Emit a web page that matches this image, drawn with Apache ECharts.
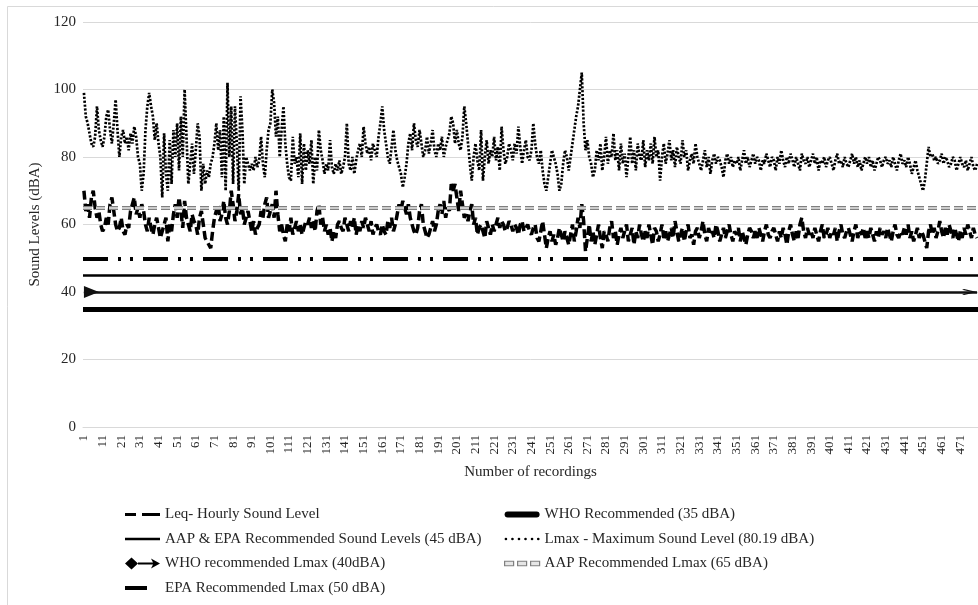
<!DOCTYPE html>
<html lang="en">
<head>
    <meta charset="UTF-8">
    <title>Sound Levels</title>
    <script type="text/javascript" src="https://cdn.jsdelivr.net/npm/echarts@6/dist/echarts.min.js"></script>
    <style>
        html, body { margin: 0; padding: 0; background: #fff; }
    </style>
</head>
<body>
    <div id="main" style="width: 978px;height:605px;"></div>
    <script type="text/javascript">

        // number of hourly recordings (x axis categories 1..480)
        var recordingCount = 480;
        var categories = [];
        for (var i = 1; i <= recordingCount; i++) {
            categories.push(String(i));
        }

        // Leq - hourly sound level (dBA)
        var leqValues = [
            70, 64, 66, 62, 68, 70, 65, 62, 64, 60,
            58, 59, 62, 60, 66, 68, 64, 60, 58, 59,
            62, 58, 57, 60, 59, 64, 66, 68, 63, 65,
            62, 66, 64, 60, 58, 62, 59, 57, 60, 62,
            59, 56, 58, 60, 62, 55, 60, 58, 63, 66,
            62, 68, 64, 59, 67, 62, 60, 58, 63, 61,
            60, 57, 62, 64, 60, 56, 55, 54, 53, 58,
            62, 64, 66, 61, 63, 67, 62, 60, 64, 70,
            66, 61, 64, 69, 63, 65, 60, 62, 64, 61,
            58, 61, 57, 59, 60, 64, 62, 66, 68, 62,
            64, 66, 62, 70, 63, 58, 60, 57, 55, 60,
            58, 62, 57, 59, 61, 58, 60, 57, 59, 61,
            60, 62, 59, 61, 58, 64, 66, 60, 62, 58,
            60, 57, 59, 55, 58, 56, 60, 61, 59, 58,
            62, 60, 58, 61, 59, 62, 57, 60, 58, 61,
            59, 62, 60, 58, 61, 57, 59, 60, 58, 57,
            60, 58, 57, 61, 59, 62, 58, 60, 63, 66,
            64, 67, 65, 63, 66, 62, 60, 58, 57, 59,
            64, 66, 60, 58, 56, 57, 59, 61, 58, 60,
            64, 66, 63, 67, 62, 65, 64, 72, 70, 72,
            68, 64, 70, 66, 62, 63, 61, 64, 66, 60,
            62, 57, 59, 60, 58, 56, 61, 59, 57, 60,
            58, 60, 62, 59, 61, 60, 58, 59, 61, 60,
            58, 60, 59, 57, 60, 61, 58, 59, 60, 58,
            57, 59, 60, 56, 55, 58, 61, 57, 53, 56,
            58, 55, 57, 54, 56, 59, 57, 55, 58, 56,
            54, 57, 60, 55, 58, 62, 59, 66, 61, 52,
            56, 60, 55, 58, 54, 57, 60, 56, 53, 58,
            57, 55, 59, 61, 56, 58, 54, 57, 59, 56,
            58, 60, 55, 57, 59, 54, 58, 56, 60, 57,
            55, 58, 56, 60, 57, 54, 59, 58, 55, 57,
            60, 56, 58, 55, 57, 59, 56, 61, 58, 55,
            57, 59, 55, 58, 60, 56, 57, 54, 58, 59,
            56, 58, 61, 57, 55, 59, 57, 58, 56, 60,
            58, 55, 57, 59, 56, 58, 60, 57, 55, 58,
            57, 59, 55, 58, 56, 54, 57, 59, 58, 56,
            58, 56, 59, 57, 55, 58, 60, 57, 56, 58,
            59, 57, 55, 58, 56, 59, 57, 54, 58, 60,
            57, 55, 58, 56, 60, 62, 58, 56, 59, 57,
            58, 56, 59, 57, 55, 58, 60, 56, 57, 59,
            56, 58, 57, 59, 55, 58, 60, 57, 56, 58,
            59, 57, 55, 58, 60, 56, 58, 57, 59, 56,
            58, 56, 59, 57, 55, 58, 56, 59, 57, 58,
            56, 59, 57, 55, 58, 60, 57, 56, 58, 57,
            59, 57, 60, 56, 58, 55, 57, 59, 56, 58,
            57, 55, 53, 58, 60, 57, 59, 56, 58, 61,
            58, 56, 59, 57, 60, 58, 56, 59, 57, 55,
            58, 56, 59, 57, 60, 58, 56, 59, 57, 56
        ];

        // Lmax - maximum sound level (dBA)
        var lmaxValues = [
            99, 92, 90, 87, 84, 83, 86, 95, 88, 85,
            83, 86, 92, 94, 88, 84, 90, 97, 88, 80,
            86, 88, 84, 86, 82, 87, 84, 89, 86, 80,
            78, 70, 75, 88, 95, 99, 95, 92, 85, 90,
            84, 80, 68, 87, 75, 70, 85, 72, 88, 80,
            90, 76, 92, 80, 100, 86, 72, 78, 84, 75,
            82, 90, 86, 70, 78, 72, 76, 74, 78, 80,
            84, 90, 82, 88, 74, 92, 70, 102, 80, 95,
            72, 95, 84, 70, 98, 88, 72, 80, 78, 76,
            78, 76, 80, 77, 79, 86, 78, 74, 82, 88,
            90, 100, 96, 86, 92, 80, 88, 95, 84, 78,
            74, 73, 86, 78, 80, 74, 87, 72, 84, 76,
            82, 78, 85, 72, 80, 76, 88, 82, 79, 75,
            78, 76, 85, 77, 75, 78, 76, 79, 75, 77,
            80, 90, 78, 76, 80, 75, 79, 82, 84, 80,
            89, 84, 81, 83, 79, 84, 82, 80, 86, 90,
            95, 88, 84, 80, 78, 83, 88, 82, 79, 77,
            75, 71, 74, 78, 84, 87, 82, 90, 85, 83,
            88, 84, 80, 82, 86, 81, 84, 88, 82, 80,
            84, 82, 86, 80, 83, 85, 87, 92, 90, 84,
            88, 84, 82, 86, 95, 90, 84, 78, 73, 80,
            84, 79, 76, 88, 73, 80, 85, 78, 82, 80,
            86, 79, 83, 76, 89, 82, 78, 80, 84, 82,
            79, 84, 81, 89, 83, 78, 82, 85, 80, 79,
            82, 90, 84, 80, 78, 82, 76, 72, 70, 74,
            78, 82, 80, 78, 75, 70, 72, 78, 82, 80,
            76, 80, 84, 88, 92, 95, 100, 105, 90, 82,
            85, 80, 78, 74, 76, 82, 79, 84, 76, 80,
            86, 78, 82, 80, 87, 79, 82, 76, 84, 78,
            81, 74, 80, 86, 78, 82, 76, 84, 80, 79,
            85, 77, 82, 79, 84, 78, 86, 80, 82, 73,
            80, 84, 78, 81, 85, 79, 82, 77, 83, 80,
            78, 85, 80, 82, 76, 79, 81, 78, 84, 80,
            78, 76, 79, 82, 77, 80, 75, 79, 81, 78,
            80, 79, 77, 74, 79, 81, 78, 80, 77, 79,
            78, 80, 76, 79, 82, 78, 80, 77, 79, 81,
            78, 80, 79, 76, 79, 78, 81, 79, 77, 80,
            79, 76, 80, 78, 82, 79, 77, 80, 78, 81,
            79, 77, 80, 78, 76, 81, 79, 78, 80, 77,
            79, 81, 78, 80, 76, 79, 78, 80, 77, 79,
            80, 78, 76, 79, 81, 78, 79, 77, 80, 78,
            77, 79, 81, 78, 80, 77, 79, 76, 78, 80,
            78, 80, 77, 79, 76, 78, 80, 79, 77, 79,
            80, 78, 79, 77, 80, 78, 76, 79, 81, 78,
            79, 77, 80, 78, 75, 77, 79, 76, 74, 72,
            70, 73, 78, 83, 80, 81, 79, 80, 78, 79,
            81, 78, 80, 79, 77, 78, 80, 79, 76, 78,
            80, 78, 77, 79, 76, 78, 80, 77, 76, 78
        ];

        // recommended limits (dBA)
        var whoRecommended = 35;
        var aapEpaRecommended = 45;
        var whoLmax = 40;
        var aapLmax = 65;
        var epaLmax = 50;

        var yTicks = { min: 0, max: 120, interval: 20 };

        var fontFamily = '"Liberation Serif", "Times New Roman", serif';
        var textColor = '#262626';

        // legend icons (35 x 12 box), zero-area subpaths only pad the box
        var icons = {
            leq: 'path://M0,0 L11,0 L11,3 L0,3 Z M17,0 L35,0 L35,3 L17,3 Z',
            who35: 'path://M3,0 L32,0 A3,3 0 0 1 32,6 L3,6 A3,3 0 0 1 3,0 Z',
            aap45: 'path://M0,0 L35,0 L35,2.5 L0,2.5 Z',
            lmax: 'path://M0.5,1.3 A1.3,1.3 0 1 0 3.1,1.3 A1.3,1.3 0 1 0 0.5,1.3 Z M6.9,1.3 A1.3,1.3 0 1 0 9.5,1.3 A1.3,1.3 0 1 0 6.9,1.3 Z M13.3,1.3 A1.3,1.3 0 1 0 15.9,1.3 A1.3,1.3 0 1 0 13.3,1.3 Z M19.7,1.3 A1.3,1.3 0 1 0 22.3,1.3 A1.3,1.3 0 1 0 19.7,1.3 Z M26.1,1.3 A1.3,1.3 0 1 0 28.7,1.3 A1.3,1.3 0 1 0 26.1,1.3 Z M32.2,1.3 A1.3,1.3 0 1 0 34.8,1.3 A1.3,1.3 0 1 0 32.2,1.3 Z',
            who40: 'path://M0,6 L6.5,0 L13,6 L6.5,12 Z M13,5 L30,5 L30,7 L13,7 Z M26,1 L35,6 L26,11 L28.5,6 Z',
            aap65: 'path://M0,0 L9,0 L9,4.5 L0,4.5 Z M13,0 L22,0 L22,4.5 L13,4.5 Z M26,0 L35,0 L35,4.5 L26,4.5 Z',
            epa50: 'path://M0,0 L22,0 L22,4 L0,4 Z M35,2 L35,2.01 L34.99,2 Z'
        };

        var myChart = echarts.init(document.getElementById('main'));

        function limitSeries(name, value, lineStyle) {
            return {
                name: name,
                type: 'line',
                data: [],
                symbol: 'none',
                color: '#000',
                lineStyle: lineStyle,
                markLine: {
                    silent: true,
                    symbol: 'none',
                    animation: false,
                    label: { show: false },
                    emphasis: { disabled: true },
                    lineStyle: lineStyle,
                    data: [{ yAxis: value }]
                }
            };
        }

        var legendText = { fontFamily: fontFamily, fontSize: 15, color: textColor, lineHeight: 17 };

        var option = {
            backgroundColor: '#fff',
            animation: false,
            graphic: [{
                type: 'rect',
                z: -10,
                shape: { x: 7.5, y: 6.5, width: 1000, height: 1000 },
                style: { fill: 'none', stroke: '#d9d9d9', lineWidth: 1 }
            }],
            grid: {
                left: 83,
                right: 0,
                top: 22,
                bottom: 178,
                outerBoundsMode: 'none',
                containLabel: false
            },
            legend: [{
                orient: 'vertical',
                left: 120,
                top: 501,
                itemWidth: 35,
                itemHeight: 12,
                itemGap: 7.5,
                selectedMode: false,
                textStyle: legendText,
                data: [
                    { name: 'Leq- Hourly Sound Level', icon: icons.leq, itemStyle: { color: '#000' } },
                    { name: 'AAP & EPA Recommended Sound Levels (45 dBA)', icon: icons.aap45, itemStyle: { color: '#000' } },
                    { name: 'WHO recommended Lmax (40dBA)', icon: icons.who40, itemStyle: { color: '#000' } },
                    { name: 'EPA Recommended Lmax (50 dBA)', icon: icons.epa50, itemStyle: { color: '#000' } }
                ]
            }, {
                orient: 'vertical',
                left: 499,
                top: 501,
                itemWidth: 35,
                itemHeight: 12,
                itemGap: 7.5,
                selectedMode: false,
                textStyle: legendText,
                data: [
                    { name: 'WHO Recommended (35 dBA)', icon: icons.who35, itemStyle: { color: '#000' } },
                    { name: 'Lmax - Maximum Sound Level (80.19 dBA)', icon: icons.lmax, itemStyle: { color: '#000' } },
                    { name: 'AAP Recommended Lmax (65 dBA)', icon: icons.aap65, itemStyle: { color: '#e6e6e6', borderColor: '#7f7f7f', borderWidth: 1.2 } }
                ]
            }],
            xAxis: {
                type: 'category',
                data: categories,
                boundaryGap: true,
                name: 'Number of recordings',
                nameLocation: 'middle',
                nameGap: 38,
                nameTextStyle: { fontFamily: fontFamily, fontSize: 15, color: textColor },
                axisLine: { show: true, lineStyle: { color: '#d9d9d9', width: 1 } },
                axisTick: { show: false },
                axisLabel: {
                    interval: 9,
                    rotate: 90,
                    margin: 8,
                    fontFamily: fontFamily,
                    fontSize: 13,
                    color: textColor
                },
                splitLine: { show: false }
            },
            yAxis: {
                type: 'value',
                min: yTicks.min,
                max: yTicks.max,
                interval: yTicks.interval,
                name: 'Sound Levels (dBA)',
                nameLocation: 'middle',
                nameGap: 39,
                nameTextStyle: { fontFamily: fontFamily, fontSize: 15, color: textColor },
                axisLine: { show: false },
                axisTick: { show: false },
                axisLabel: { margin: 7, fontFamily: fontFamily, fontSize: 15, color: textColor },
                splitLine: { show: true, lineStyle: { color: '#d9d9d9', width: 1 } }
            },
            series: [
                {
                    name: 'Leq- Hourly Sound Level',
                    type: 'line',
                    data: leqValues,
                    symbol: 'none',
                    color: '#000',
                    lineStyle: { color: '#000', width: 3.5, type: [9, 4] },
                    z: 3
                },
                limitSeries('WHO Recommended (35 dBA)', whoRecommended,
                    { color: '#000', width: 5, type: 'solid' }),
                limitSeries('AAP & EPA Recommended Sound Levels (45 dBA)', aapEpaRecommended,
                    { color: '#000', width: 2.5, type: 'solid' }),
                {
                    name: 'Lmax - Maximum Sound Level (80.19 dBA)',
                    type: 'line',
                    data: lmaxValues,
                    symbol: 'none',
                    color: '#000',
                    lineStyle: { color: '#000', width: 2.7, type: [2.2, 1.7] },
                    z: 2
                },
                {
                    name: 'WHO recommended Lmax (40dBA)',
                    type: 'line',
                    data: [],
                    symbol: 'none',
                    color: '#000',
                    markLine: {
                        silent: true,
                        animation: false,
                        symbol: [
                            'path://M1,0 L13,0 L7,7 Z M0,-7 L0.01,-7 L0,-6.99 Z M14,7 L13.99,7 L14,6.99 Z',
                            'path://M8.5,28 L15,15 L21.5,28 L19.6,30 L15,20.5 L10.4,30 Z M0,0 L0.01,0 L0,0.01 Z M30,30 L29.99,30 L30,29.99 Z'
                        ],
                        symbolSize: [14, 30],
                        label: { show: false },
                        emphasis: { disabled: true },
                        lineStyle: { color: '#111', width: 2.5, type: 'solid' },
                        data: [[
                            { xAxis: categories[0], yAxis: whoLmax },
                            { xAxis: categories[categories.length - 1], yAxis: whoLmax }
                        ]]
                    }
                },
                {
                    name: 'AAP Recommended Lmax (65 dBA)',
                    type: 'line',
                    data: [],
                    symbol: 'none',
                    color: '#000',
                    z: 4,
                    markLine: {
                        silent: true,
                        animation: false,
                        symbol: 'none',
                        label: { show: false },
                        emphasis: { disabled: true },
                        data: [
                            { yAxis: aapLmax, lineStyle: { color: '#7f7f7f', width: 4, type: [9, 4] } },
                            { yAxis: aapLmax, lineStyle: { color: '#e6e6e6', width: 1.5, type: [9, 4] } }
                        ]
                    }
                },
                limitSeries('EPA Recommended Lmax (50 dBA)', epaLmax,
                    { color: '#000', width: 4, type: [25, 10, 3, 9, 3, 10] })
            ]
        };

        myChart.setOption(option);

    </script>
</body>
</html>
